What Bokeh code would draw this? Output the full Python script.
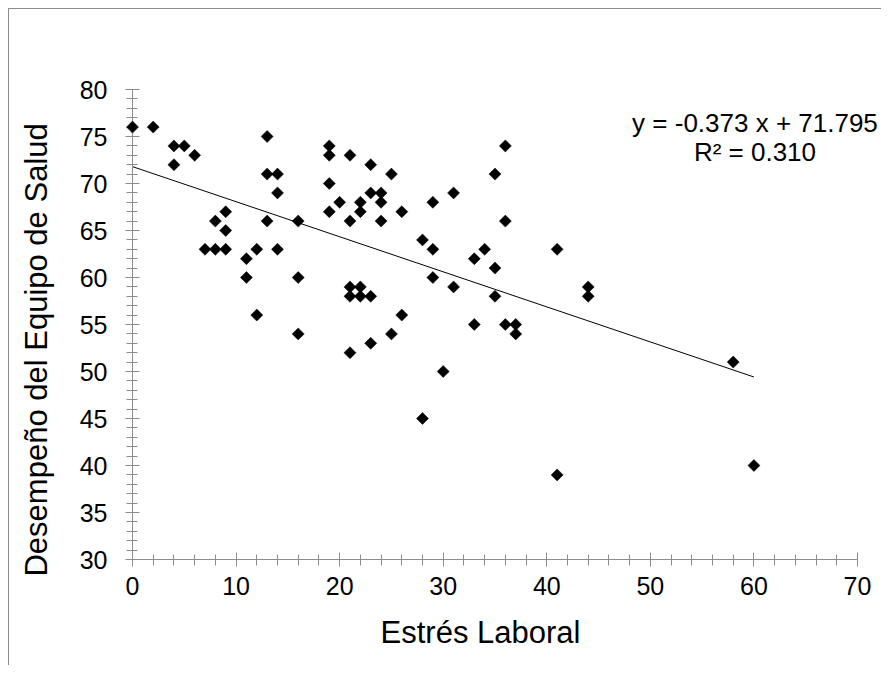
import numpy as np
from bokeh.plotting import figure
from bokeh.models import Range1d, SingleIntervalTicker, ColumnDataSource
from bokeh.core.properties import value
from bokeh.embed import file_html
from bokeh.resources import INLINE

# Data
estres = [0, 2, 4, 5, 4, 6, 7, 8, 8, 9, 9, 9, 11, 11, 12, 12, 13, 13, 13, 14, 14, 14,
          16, 16, 16, 19, 19, 19, 19, 20, 21, 21, 21, 21, 21, 22, 22, 22, 22, 23, 23,
          23, 23, 24, 24, 24, 25, 25, 26, 26, 28, 28, 29, 29, 29, 30, 31, 31, 33, 33,
          34, 35, 35, 35, 36, 36, 36, 37, 37, 41, 41, 44, 44, 58, 60]
desempeno = [76, 76, 74, 74, 72, 73, 63, 63, 66, 67, 65, 63, 62, 60, 63, 56, 75, 71, 66, 71, 69, 63,
             66, 60, 54, 74, 73, 70, 67, 68, 73, 66, 59, 58, 52, 68, 67, 59, 58, 72, 69,
             58, 53, 69, 68, 66, 71, 54, 67, 56, 64, 45, 68, 63, 60, 50, 69, 59, 62, 55,
             63, 71, 61, 58, 74, 66, 55, 55, 54, 63, 39, 59, 58, 51, 40]

slope = -0.373
intercept = 71.795
r_squared = 0.310

x_title = "Estrés Laboral"
y_title = "Desempeño del Equipo de Salud"

FONT = "Liberation Sans"
GRAY = "#8c8c8c"

p = figure(width=881, height=665, output_backend="svg", toolbar_location=None,
           x_range=Range1d(0, 70), y_range=Range1d(30, 80),
           min_border_left=132, min_border_right=24, min_border_top=89, min_border_bottom=106)
p.styles = {
    "background": ("linear-gradient(%s,%s) 8px 8px / 1px 100%% no-repeat, "
                   "linear-gradient(%s,%s) 8px 8px / 100%% 1px no-repeat, white") % (GRAY, GRAY, GRAY, GRAY)
}
p.outline_line_color = None
p.grid.visible = False
p.background_fill_color = None
p.border_fill_color = None

p.xaxis.ticker = SingleIntervalTicker(interval=10, num_minor_ticks=5)
p.yaxis.ticker = SingleIntervalTicker(interval=5, num_minor_ticks=5)
for ax in p.axis:
    ax.axis_line_color = GRAY
    ax.major_tick_line_color = GRAY
    ax.minor_tick_line_color = GRAY
    ax.major_tick_in = 7
    ax.major_tick_out = 7
    ax.minor_tick_in = 5
    ax.minor_tick_out = 6
    ax.major_label_text_font = FONT
    ax.major_label_text_font_size = "25px"
    ax.major_label_text_color = "black"

p.xaxis.major_label_standoff = 10
p.yaxis.major_label_standoff = 18

# axis titles, placed like the reference (centred on the whole plot area incl. tick labels)
titles = p.text(x=[33.6, -9.3], y=[22.2, 52.3], text=[x_title, y_title], angle=[0, np.pi / 2],
                text_align="center", text_baseline="middle", text_font=value(FONT),
                text_font_size="31px", text_color="black")
titles.level = "overlay"

# trendline
x0, x1 = min(estres), max(estres)
p.line([x0, x1], [slope * x0 + intercept, slope * x1 + intercept], line_color="black", line_width=1)

src = ColumnDataSource(dict(x=estres, y=desempeno))
r = p.scatter("x", "y", source=src, marker="square", angle=np.pi / 4, size=8.5,
              fill_color="black", line_color="black", line_width=0.5)
r.level = "overlay"

eq_lines = ["y = %.3f x + %.3f" % (slope, intercept), "R² = %.3f" % r_squared]
t = p.text(x=[60.1, 60.1], y=[76.4, 73.4], text=eq_lines, text_align="center",
           text_baseline="middle", text_font=value(FONT), text_font_size="26px",
           text_color="black")
t.level = "overlay"

open("out.html", "w").write(file_html(p, INLINE))
